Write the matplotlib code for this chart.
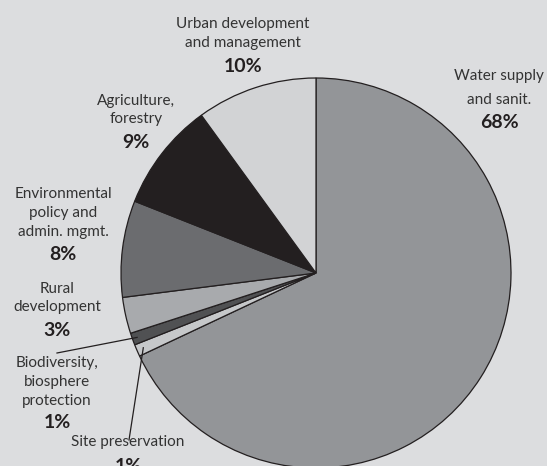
import matplotlib
matplotlib.use("Agg")
import matplotlib.pyplot as plt
import numpy as np

# ---- data ----
categories = [
    ["Water supply", "and sanit."],
    ["Site preservation"],
    ["Biodiversity,", "biosphere", "protection"],
    ["Rural", "development"],
    ["Environmental", "policy and", "admin. mgmt."],
    ["Agriculture,", "forestry"],
    ["Urban development", "and management"],
]
shares = [68, 1, 1, 3, 8, 9, 10]
pct_labels = ["68%", "1%", "1%", "3%", "8%", "9%", "10%"]
colors = ["#939598", "#c6c8ca", "#505153", "#a8aaad", "#6b6c6f", "#231f20", "#d2d3d5"]

# ---- layout (pixel coordinates of the label blocks) ----
W, H = 547, 466
BG = "#dcdddf"
CX, CY, R = 316, 273, 195
label_layout = [
    (499, [76, 100], 123),
    (128, [442], 466),
    (57, [363, 382, 401], 423),
    (57, [289, 307], 331),
    (63, [194, 213, 232], 255),
    (136, [101, 119], 142),
    (243, [24, 43], 66),
]
leaders = {1: ((129, 440), 0.965), 2: ((57, 353), 0.975)}

FONT = "Lato"
TXT = "#333333"

fig = plt.figure(figsize=(W / 100, H / 100), dpi=100)
fig.patch.set_facecolor(BG)
ax = fig.add_axes([0, 0, 1, 1])
ax.set_facecolor(BG)

wedges, _ = ax.pie(
    shares, colors=colors, startangle=90, counterclock=False,
    center=(CX, H - CY), radius=R,
    wedgeprops=dict(edgecolor="#231f20", linewidth=0.9),
)
ax.set_xlim(0, W)
ax.set_ylim(0, H)
ax.set_aspect("equal")
ax.axis("off")

for (x, ys, py), lines, pct in zip(label_layout, categories, pct_labels):
    for y, line in zip(ys, lines):
        ax.text(x, H - y, line, ha="center", va="center", fontsize=11,
                family=FONT, color=TXT)
    ax.text(x, H - py, pct, ha="center", va="center", fontsize=14,
            family=FONT, fontweight="bold", color="#231f20")

for i, ((lx, ly), frac) in leaders.items():
    w = wedges[i]
    mid = np.deg2rad((w.theta1 + w.theta2) / 2)
    ex = CX + frac * R * np.cos(mid)
    ey = (H - CY) + frac * R * np.sin(mid)
    ax.plot([lx, ex], [H - ly, ey], color="#231f20", linewidth=0.9)

fig.savefig("out.png", dpi=100, facecolor=BG)
